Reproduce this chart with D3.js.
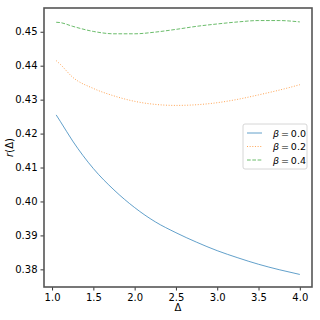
<!DOCTYPE html>
<html lang="en">
<head>
<meta charset="UTF-8">
<title>r(Delta)</title>
<style>
  body { margin: 0; background: #fff; }
  text { font-family: "DejaVu Sans", sans-serif; }
</style>
</head>
<body>
<svg id="chart" width="320" height="320"></svg>
<script src="https://cdnjs.cloudflare.com/ajax/libs/d3/7.8.5/d3.min.js"></script>
<script>

var deltas = [1.05, 1.1, 1.25, 1.5, 1.75, 2.0, 2.25, 2.5, 2.75, 3.0, 3.25, 3.5, 3.75, 4.0];
var beta00 = [0.4255, 0.4236, 0.4178, 0.4097, 0.4034, 0.3982, 0.3940, 0.3908, 0.3880, 0.3855, 0.3834, 0.3815, 0.3799, 0.3785];
var beta02 = [0.4415, 0.4404, 0.4366, 0.4333, 0.4311, 0.4295, 0.4286, 0.4283, 0.4285, 0.4291, 0.4301, 0.4314, 0.4328, 0.4344];
var beta04 = [0.4528, 0.4527, 0.4516, 0.4501, 0.4494, 0.4494, 0.4499, 0.4507, 0.4516, 0.4523, 0.4529, 0.4533, 0.4533, 0.4529];
var labels = ["\u03b2 = 0.0", "\u03b2 = 0.2", "\u03b2 = 0.4"];
var xTicks = [1.0, 1.5, 2.0, 2.5, 3.0, 3.5, 4.0];
var yTicks = [0.38, 0.39, 0.40, 0.41, 0.42, 0.43, 0.44, 0.45];

var svg = d3.select("#chart"),
  mLeft = 44, mRight = 312, mTop = 8, mBottom = 287;

var x = d3.scaleLinear().domain([0.9025, 4.1475]).range([mLeft, mRight]);
var y = d3.scaleLinear().domain([0.3748, 0.4570]).range([mBottom, mTop]);

var series = [
  { vals: beta00, color: "#1f77b4", dash: null },
  { vals: beta02, color: "#ff7f0e", dash: "1,1.65" },
  { vals: beta04, color: "#2ca02c", dash: "3.7,1.6" }
];

var line = d3.line()
  .x(function (d) { return x(d[0]); })
  .y(function (d) { return y(d[1]); })
  .curve(d3.curveMonotoneX);

series.forEach(function (s) {
  svg.append("path")
    .datum(deltas.map(function (d, i) { return [d, s.vals[i]]; }))
    .attr("d", line)
    .attr("fill", "none")
    .attr("stroke", s.color)
    .attr("stroke-opacity", 0.7)
    .attr("stroke-width", 1)
    .attr("stroke-dasharray", s.dash);
});

// axes
var xAxis = svg.append("g")
  .attr("transform", "translate(0," + mBottom + ")")
  .call(d3.axisBottom(x).tickValues(xTicks).tickFormat(d3.format(".1f")).tickSize(3.5).tickPadding(3));
var yAxis = svg.append("g")
  .attr("transform", "translate(" + mLeft + ",0)")
  .call(d3.axisLeft(y).tickValues(yTicks).tickFormat(d3.format(".2f")).tickSize(3.5).tickPadding(3));

[xAxis, yAxis].forEach(function (g) {
  g.select(".domain").remove();
  g.selectAll("text").attr("font-size", 10).attr("fill", "#000")
    .style("font-family", "DejaVu Sans, sans-serif");
  g.selectAll("line").attr("stroke", "#000").attr("stroke-width", 0.8);
});

svg.append("rect")
  .attr("x", mLeft).attr("y", mTop)
  .attr("width", mRight - mLeft).attr("height", mBottom - mTop)
  .attr("fill", "none").attr("stroke", "#555").attr("stroke-width", 1.6);

// labels
svg.append("text")
  .attr("x", x(2.525)).attr("y", 311)
  .attr("text-anchor", "middle").attr("font-size", 10)
  .text("\u0394");

svg.append("text")
  .attr("transform", "translate(13," + ((mTop + mBottom) / 2) + ") rotate(-90)")
  .attr("text-anchor", "middle").attr("font-size", 10)
  .html('<tspan font-style="italic">r</tspan>(\u0394)');

// legend
var leg = svg.append("g").attr("transform", "translate(243,124)");
leg.append("rect")
  .attr("width", 64).attr("height", 45).attr("rx", 2)
  .attr("fill", "#fff").attr("fill-opacity", 0.8)
  .attr("stroke", "#ccc").attr("stroke-width", 0.8);

series.forEach(function (s, i) {
  var yy = 9 + i * 13.5;
  leg.append("line")
    .attr("x1", 4).attr("x2", 19).attr("y1", yy).attr("y2", yy)
    .attr("stroke", s.color).attr("stroke-opacity", 0.7)
    .attr("stroke-width", 1).attr("stroke-dasharray", s.dash);
  var t = leg.append("text")
    .attr("x", 30).attr("y", yy + 3.5).attr("font-size", 9.5);
  t.append("tspan").attr("font-style", "italic").text("\u03b2");
  t.append("tspan").text(labels[i].slice(1).replace(/ /g, "\u2009"));
});

</script>
</body>
</html>
